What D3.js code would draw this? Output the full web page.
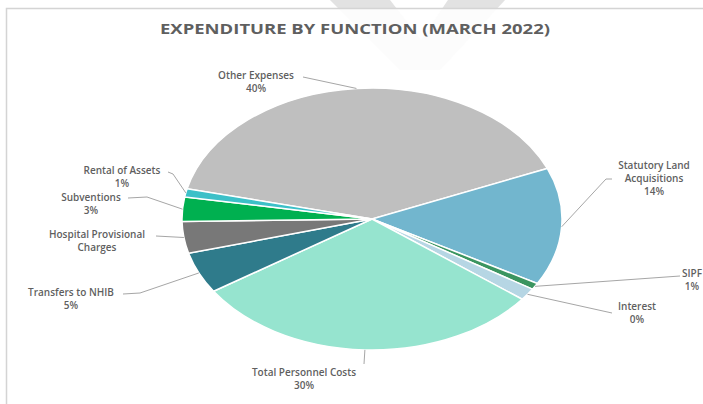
<html>
<head>
<meta charset="utf-8">
<script src="https://cdn.jsdelivr.net/npm/d3@7"></script>
<style>
  body { margin: 0; background: #fff; }
  text { font-family: "Open Sans", "Liberation Sans", sans-serif; }
</style>
</head>
<body>
<div id="chart"></div>
<script>

// data (shares in %, clockwise from "Other Expenses")
var categories = ["Other Expenses", "Statutory Land Acquisitions", "SIPF", "Interest",
                  "Total Personnel Costs", "Transfers to NHIB", "Hospital Provisional Charges",
                  "Subventions", "Rental of Assets"];
var shares = [40.0, 14.5, 0.8, 1.5, 30.2, 5.1, 3.9, 3.0, 1.0];
var pctLabels = ["40%", "14%", "1%", "0%", "30%", "5%", "", "3%", "1%"];
var colors = ["#bfbfbf", "#72b6ce", "#3b9560", "#b6d6e4", "#96e4cf", "#2f7b8b", "#787878", "#00b050", "#3cc0c8"];

// label layout: text centre/baseline, name split in lines, leader elbow points
var labelLines = [["Other Expenses"], ["Statutory Land", "Acquisitions"], ["SIPF"], ["Interest"],
                  ["Total Personnel Costs"], ["Transfers to NHIB"], ["Hospital Provisional", "Charges"],
                  ["Subventions"], ["Rental of Assets"]];
var labelPos = [[256, 79], [654, 169], [692, 277], [637, 310], [304, 376], [71, 296], [97, 238], [91, 201], [122, 174]];
var elbows = [[[303, 77]], [[612, 179], [606, 179]], [[680, 276]], [[612, 313]], [[364, 364]],
              [[123, 294], [140, 293]], [[156, 236]], [[128, 198], [147, 197]], [[168, 172], [173, 174]]];

var width = 703, height = 404;
var cx = 372, cy = 219, rx = 190, ry = 131;
var start = -76.7 * Math.PI / 180;

var svg = d3.select("#chart").append("svg")
    .attr("width", width)
    .attr("height", height);

svg.append("rect").attr("width", width).attr("height", height).attr("fill", "#fff");

// faint watermark chevron at the top
var wm = "M330,0 L390,0 L421,40 L448,0 L505,0 L440,70 L400,70 Z";
svg.append("clipPath").attr("id", "above").append("rect").attr("width", width).attr("height", 8);
svg.append("path").attr("d", wm).attr("fill", "#fcfcfc");
svg.append("path").attr("d", wm).attr("fill", "#e2e2e2").attr("clip-path", "url(#above)");

// frame (top and left edges)
svg.append("path")
    .attr("d", "M6.5," + height + " L6.5,8.5 L" + width + ",8.5")
    .attr("fill", "none")
    .attr("stroke", "#d4d4d4")
    .attr("stroke-width", 1.5);

svg.append("text")
    .attr("x", 355)
    .attr("y", 34)
    .attr("text-anchor", "middle")
    .attr("textLength", 390)
    .attr("lengthAdjust", "spacingAndGlyphs")
    .style("font-size", "14.5px")
    .style("font-weight", "bold")
    .style("fill", "#5f5f5f")
    .text("EXPENDITURE BY FUNCTION (MARCH 2022)");

var pie = d3.pie().sort(null).value(function(d) { return d; })
    .startAngle(start).endAngle(start + 2 * Math.PI);
var arcs = pie(shares);

var arc = d3.arc().innerRadius(0).outerRadius(ry);

svg.append("g")
    .attr("transform", "translate(" + cx + "," + cy + ") scale(" + (rx / ry) + ",1)")
  .selectAll("path")
  .data(arcs)
  .enter()
  .append("path")
    .attr("d", arc)
    .attr("fill", function(d, i) { return colors[i]; })
    .attr("stroke", "#fff")
    .attr("stroke-width", 1.5)
    .attr("vector-effect", "non-scaling-stroke");

// leader lines from label to the middle of each slice's rim
svg.append("g").selectAll("polyline")
  .data(arcs)
  .enter()
  .append("polyline")
    .attr("points", function(d, i) {
      var a = (d.startAngle + d.endAngle) / 2;
      var pts = elbows[i].concat([[cx + rx * Math.sin(a), cy - ry * Math.cos(a)]]);
      return pts.map(function(p) { return p.join(","); }).join(" ");
    })
    .attr("fill", "none")
    .attr("stroke", "#a6a6a6")
    .attr("stroke-width", 1);

var labels = svg.append("g").selectAll("text")
  .data(categories)
  .enter()
  .append("text")
    .attr("x", function(d, i) { return labelPos[i][0]; })
    .attr("y", function(d, i) { return labelPos[i][1]; })
    .attr("text-anchor", "middle")
    .style("font-size", "10px")
    .style("font-weight", "600")
    .style("fill", "#5f5f5f");

labels.each(function(d, i) {
  var t = d3.select(this);
  var lines = labelLines[i].slice();
  if (pctLabels[i]) lines.push(pctLabels[i]);
  lines.forEach(function(l, j) {
    t.append("tspan")
      .attr("x", labelPos[i][0])
      .attr("dy", j === 0 ? 0 : 13)
      .text(l);
  });
});

</script>
</body>
</html>
